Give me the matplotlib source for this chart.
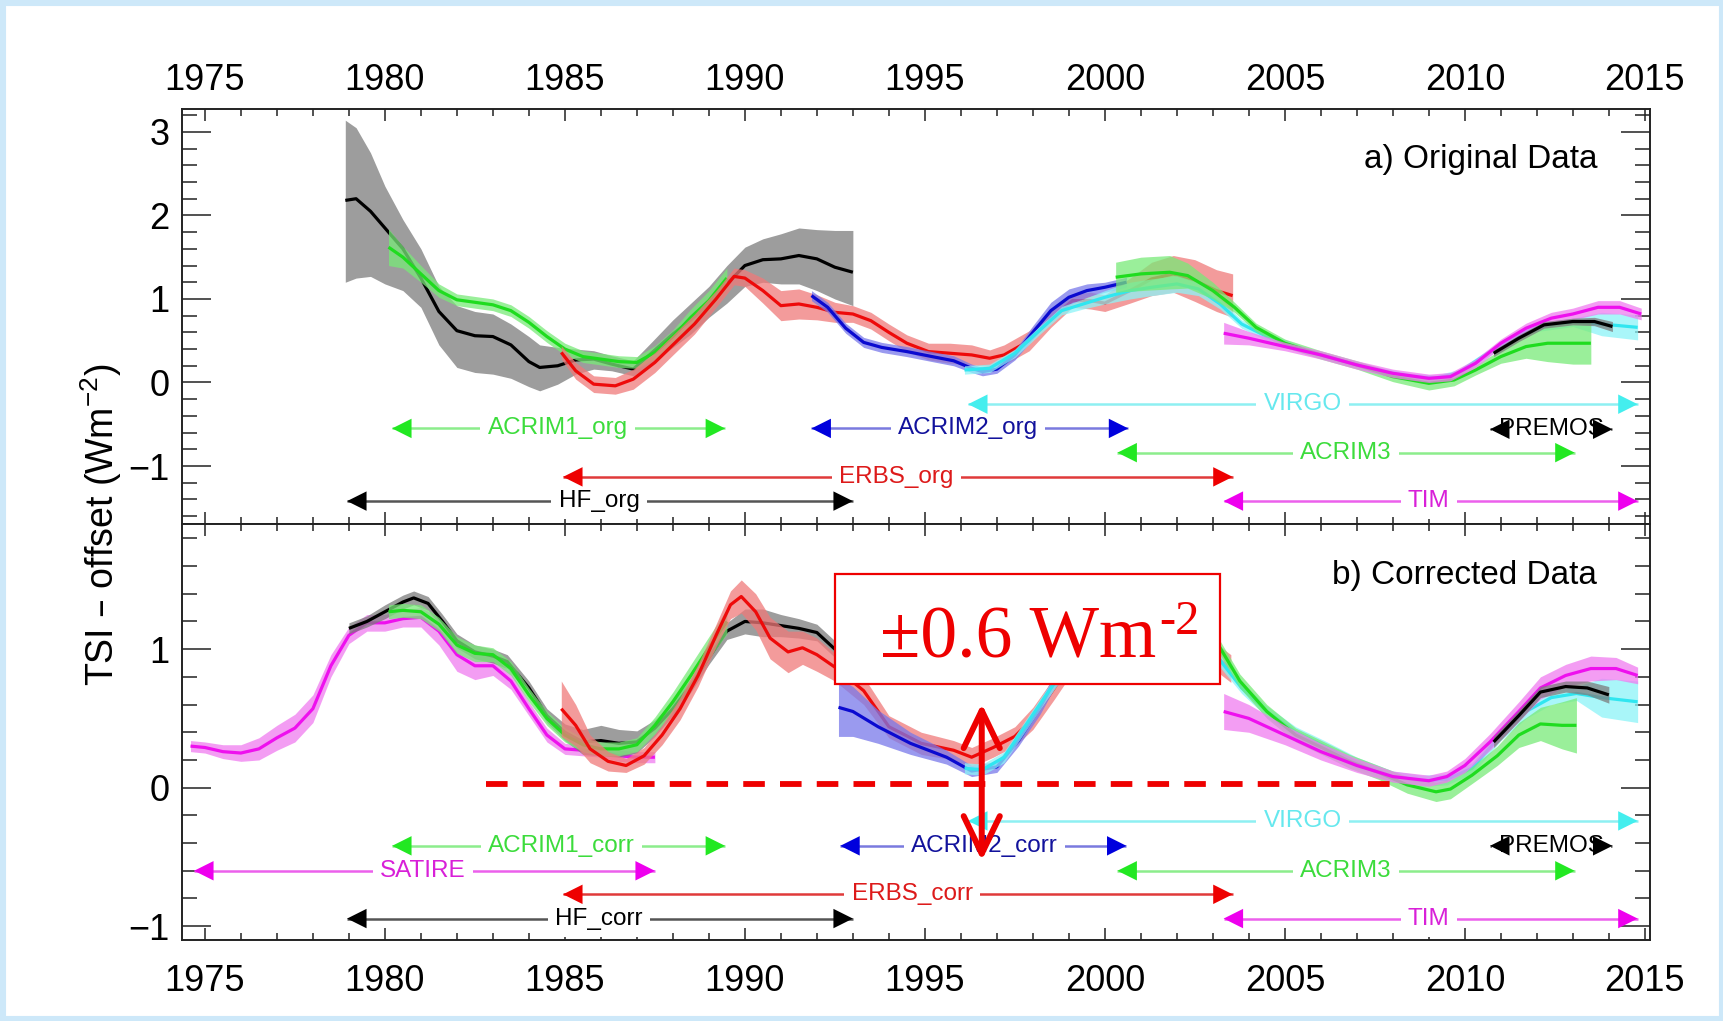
import numpy as np
import matplotlib
matplotlib.use('Agg')
import matplotlib.pyplot as plt
from matplotlib.patches import Rectangle
from matplotlib.ticker import MultipleLocator

plt.rcParams['font.family'] = ['Liberation Sans', 'DejaVu Sans']

# ---------------- a) original data ----------------
HF_ORG_T = [1978.9, 1979.2, 1979.6, 1980.0, 1980.5, 1981.0, 1981.5, 1982.0, 1982.5, 1983.0,
            1983.5, 1984.0, 1984.3, 1984.8, 1985.3, 1985.8, 1986.3, 1986.9, 1987.4, 1988.0,
            1988.5, 1989.0, 1989.5, 1990.0, 1990.5, 1991.0, 1991.5, 1992.0, 1992.5, 1993.0]
HF_ORG_Y = [2.18, 2.20, 2.05, 1.85, 1.60, 1.25, 0.85, 0.62, 0.56, 0.55,
            0.45, 0.25, 0.18, 0.20, 0.27, 0.28, 0.22, 0.16, 0.35, 0.58,
            0.75, 0.94, 1.18, 1.40, 1.47, 1.48, 1.52, 1.48, 1.38, 1.32]
HF_ORG_HI = [3.14, 3.05, 2.75, 2.35, 1.95, 1.60, 1.15, 0.92, 0.85, 0.82,
             0.70, 0.55, 0.45, 0.42, 0.40, 0.38, 0.32, 0.26, 0.48, 0.75,
             0.95, 1.15, 1.40, 1.62, 1.72, 1.78, 1.85, 1.83, 1.82, 1.82]
HF_ORG_LO = [1.20, 1.25, 1.27, 1.18, 1.10, 0.90, 0.45, 0.18, 0.12, 0.10,
             0.05, -0.05, -0.10, -0.02, 0.10, 0.16, 0.14, 0.08, 0.22, 0.42,
             0.58, 0.78, 0.95, 1.15, 1.20, 1.18, 1.18, 1.10, 1.00, 0.92]

ACRIM1_ORG_T = [1980.1, 1980.5, 1981.0, 1981.5, 1982.0, 1982.5, 1983.0, 1983.5, 1984.0, 1984.5,
                1985.0, 1985.5, 1986.0, 1986.5, 1987.0, 1987.5, 1988.0, 1988.5, 1989.0, 1989.5]
ACRIM1_ORG_Y = [1.62, 1.50, 1.30, 1.10, 0.99, 0.96, 0.93, 0.86, 0.72, 0.55,
                0.40, 0.31, 0.28, 0.25, 0.24, 0.36, 0.55, 0.78, 0.98, 1.25]
ACRIM1_ORG_E = [0.22, 0.13, 0.10, 0.08, 0.07, 0.07, 0.07, 0.07, 0.07, 0.07,
                0.07, 0.07, 0.07, 0.07, 0.07, 0.08, 0.08, 0.10, 0.12, 0.12]

ERBS_ORG_T = [1984.9, 1985.3, 1985.8, 1986.4, 1986.9, 1987.5, 1988.0, 1988.6, 1989.2, 1989.7,
              1990.0, 1990.5, 1991.0, 1991.5, 1992.0, 1992.5, 1993.0, 1993.5, 1994.0, 1994.5,
              1995.1, 1995.7, 1996.3, 1996.8, 1997.2, 1997.9, 1998.5, 1999.1, 1999.6, 2000.0,
              2000.7, 2001.3, 2001.9, 2002.5, 2003.1, 2003.55]
ERBS_ORG_Y = [0.36, 0.14, -0.02, -0.04, 0.04, 0.24, 0.45, 0.70, 1.00, 1.27,
              1.25, 1.10, 0.92, 0.94, 0.90, 0.84, 0.82, 0.74, 0.60, 0.47,
              0.37, 0.35, 0.33, 0.29, 0.33, 0.50, 0.76, 0.98, 0.98, 0.95,
              1.10, 1.24, 1.30, 1.22, 1.10, 1.04]
ERBS_ORG_E = [0.08, 0.10, 0.10, 0.10, 0.12, 0.12, 0.12, 0.12, 0.10, 0.10,
              0.10, 0.15, 0.18, 0.18, 0.15, 0.12, 0.10, 0.10, 0.10, 0.10,
              0.10, 0.12, 0.12, 0.10, 0.12, 0.12, 0.10, 0.08, 0.10, 0.10,
              0.15, 0.20, 0.22, 0.25, 0.25, 0.26]

ACRIM2_ORG_T = [1991.85, 1992.3, 1992.8, 1993.3, 1993.8, 1994.5, 1995.2, 1995.8, 1996.3,
                1996.6, 1997.0, 1997.5, 1998.0, 1998.5, 1999.0, 1999.5, 2000.0, 2000.6]
ACRIM2_ORG_Y = [1.04, 0.90, 0.65, 0.48, 0.42, 0.37, 0.31, 0.26, 0.17,
                0.13, 0.16, 0.33, 0.60, 0.86, 1.02, 1.10, 1.14, 1.20]
ACRIM2_ORG_E = [0.06, 0.06, 0.06, 0.06, 0.06, 0.06, 0.06, 0.06, 0.05,
                0.05, 0.05, 0.06, 0.08, 0.10, 0.10, 0.08, 0.06, 0.06]

VIRGO_ORG_T = [1996.1, 1996.8, 1997.5, 1998.2, 1998.8, 1999.4, 2000.0, 2000.7, 2001.3, 2002.0,
               2002.6, 2003.2, 2003.8, 2004.5, 2005.5, 2006.5, 2007.5, 2008.5, 2009.2, 2009.8,
               2010.5, 2011.3, 2012.0, 2013.0, 2013.8, 2014.8]
VIRGO_ORG_Y = [0.15, 0.17, 0.35, 0.63, 0.86, 0.94, 1.02, 1.10, 1.14, 1.18,
               1.12, 0.94, 0.70, 0.55, 0.39, 0.27, 0.15, 0.07, 0.05, 0.11,
               0.31, 0.53, 0.66, 0.72, 0.70, 0.66]
VIRGO_ORG_E = [0.05, 0.05, 0.05, 0.05, 0.05, 0.06, 0.08, 0.10, 0.10, 0.10,
               0.08, 0.06, 0.05, 0.05, 0.04, 0.04, 0.04, 0.04, 0.04, 0.04,
               0.04, 0.04, 0.05, 0.05, 0.14, 0.15]

ACRIM3_ORG_T = [2000.3, 2001.0, 2001.8, 2002.3, 2003.0, 2003.6, 2004.2, 2005.0, 2006.0, 2007.0,
                2008.0, 2009.0, 2009.7, 2010.3, 2011.0, 2011.7, 2012.3, 2013.0, 2013.5]
ACRIM3_ORG_Y = [1.26, 1.30, 1.32, 1.28, 1.10, 0.90, 0.66, 0.47, 0.33, 0.21,
                0.07, -0.01, 0.03, 0.15, 0.31, 0.43, 0.47, 0.47, 0.47]
ACRIM3_ORG_E = [0.18, 0.20, 0.20, 0.15, 0.10, 0.06, 0.05, 0.05, 0.05, 0.05,
                0.06, 0.08, 0.07, 0.06, 0.08, 0.14, 0.22, 0.25, 0.25]

TIM_ORG_T = [2003.3, 2004.0, 2005.0, 2006.0, 2007.0, 2008.0, 2009.0, 2009.6,
             2010.3, 2011.0, 2011.7, 2012.4, 2013.0, 2013.7, 2014.3, 2014.9]
TIM_ORG_Y = [0.59, 0.53, 0.43, 0.33, 0.21, 0.11, 0.05, 0.07,
             0.23, 0.47, 0.65, 0.77, 0.82, 0.90, 0.90, 0.82]
TIM_ORG_E = [0.13, 0.08, 0.05, 0.05, 0.05, 0.05, 0.05, 0.05,
             0.05, 0.05, 0.06, 0.07, 0.07, 0.08, 0.08, 0.07]

PREMOS_ORG_T = [2010.8, 2011.5, 2012.2, 2013.0, 2013.6, 2014.1]
PREMOS_ORG_Y = [0.35, 0.53, 0.69, 0.73, 0.73, 0.67]
PREMOS_ORG_E = [0.04, 0.04, 0.04, 0.04, 0.05, 0.06]

# ---------------- b) corrected data ----------------
SATIRE_T = [1974.6, 1975.0, 1975.5, 1976.0, 1976.5, 1977.0, 1977.5, 1978.0, 1978.5, 1979.0,
            1979.5, 1980.0, 1980.5, 1981.0, 1981.5, 1982.0, 1982.5, 1983.0, 1983.5, 1984.0,
            1984.5, 1985.0, 1985.5, 1986.0, 1986.5, 1987.0, 1987.5]
SATIRE_Y = [0.30, 0.29, 0.26, 0.25, 0.28, 0.36, 0.43, 0.57, 0.88, 1.10,
            1.19, 1.19, 1.22, 1.23, 1.13, 0.96, 0.88, 0.88, 0.77, 0.57,
            0.38, 0.28, 0.27, 0.26, 0.23, 0.22, 0.22]
SATIRE_E = [0.04, 0.04, 0.05, 0.06, 0.08, 0.09, 0.10, 0.10, 0.08, 0.06,
            0.06, 0.06, 0.06, 0.07, 0.10, 0.12, 0.10, 0.07, 0.06, 0.05,
            0.05, 0.04, 0.04, 0.04, 0.04, 0.04, 0.04]

HF_CORR_T = [1979.0, 1979.5, 1980.0, 1980.5, 1980.8, 1981.2, 1981.6, 1982.0, 1982.5, 1983.0,
             1983.4, 1984.0, 1984.5, 1985.0, 1985.5, 1986.0, 1986.5, 1987.0, 1987.5, 1988.0,
             1988.5, 1989.0, 1989.5, 1990.0, 1990.5, 1991.0, 1991.5, 1992.0, 1992.5, 1993.0]
HF_CORR_Y = [1.15, 1.20, 1.27, 1.34, 1.37, 1.33, 1.20, 1.06, 0.98, 0.95,
             0.91, 0.72, 0.52, 0.40, 0.33, 0.34, 0.32, 0.33, 0.43, 0.57,
             0.74, 0.94, 1.13, 1.20, 1.19, 1.17, 1.15, 1.12, 1.00, 0.88]
HF_CORR_E = [0.04, 0.04, 0.05, 0.05, 0.05, 0.05, 0.05, 0.05, 0.05, 0.05,
             0.05, 0.05, 0.05, 0.06, 0.09, 0.11, 0.10, 0.08, 0.06, 0.05,
             0.05, 0.05, 0.06, 0.09, 0.10, 0.08, 0.07, 0.06, 0.06, 0.06]

ACRIM1_CORR_T = [1980.1, 1980.5, 1981.0, 1981.5, 1982.0, 1982.5, 1983.0, 1983.5, 1984.0, 1984.5,
                 1985.0, 1985.5, 1986.0, 1986.5, 1987.0, 1987.5, 1988.0, 1988.5, 1989.0, 1989.5]
ACRIM1_CORR_Y = [1.27, 1.28, 1.27, 1.18, 1.03, 0.97, 0.96, 0.86, 0.67, 0.50,
                 0.38, 0.31, 0.28, 0.28, 0.31, 0.45, 0.62, 0.81, 1.01, 1.20]
ACRIM1_CORR_E = [0.05, 0.05, 0.05, 0.05, 0.06, 0.06, 0.05, 0.05, 0.05, 0.05,
                 0.05, 0.05, 0.05, 0.05, 0.05, 0.06, 0.07, 0.08, 0.08, 0.09]

ERBS_CORR_T = [1984.9, 1985.3, 1985.7, 1986.2, 1986.7, 1987.2, 1987.7, 1988.2, 1988.7, 1989.2,
               1989.6, 1989.9, 1990.3, 1990.7, 1991.2, 1991.6, 1992.0, 1992.5, 1993.3, 1994.0,
               1994.9, 1995.8, 1996.3, 1996.9, 1997.5, 1998.0, 1998.6, 1999.2, 1999.8, 2000.4,
               2001.0, 2001.7, 2002.5, 2003.0, 2003.5]
ERBS_CORR_Y = [0.57, 0.45, 0.28, 0.19, 0.16, 0.23, 0.38, 0.57, 0.81, 1.10,
               1.32, 1.38, 1.27, 1.08, 0.98, 1.01, 0.96, 0.87, 0.70, 0.44,
               0.32, 0.27, 0.22, 0.29, 0.37, 0.50, 0.72, 0.95, 0.90, 0.88,
               1.02, 1.15, 1.08, 0.96, 0.86]
ERBS_CORR_E = [0.20, 0.15, 0.10, 0.07, 0.05, 0.06, 0.07, 0.08, 0.08, 0.08,
               0.10, 0.12, 0.13, 0.15, 0.15, 0.12, 0.12, 0.10, 0.10, 0.08,
               0.08, 0.07, 0.07, 0.07, 0.07, 0.08, 0.08, 0.08, 0.10, 0.12,
               0.12, 0.12, 0.12, 0.10, 0.10]

ACRIM2_CORR_T = [1992.6, 1993.0, 1993.7, 1994.6, 1995.6, 1996.3, 1997.0,
                 1997.6, 1998.2, 1998.6, 1999.1, 1999.6, 2000.1, 2000.6]
ACRIM2_CORR_Y = [0.58, 0.55, 0.44, 0.32, 0.22, 0.12, 0.15,
                 0.34, 0.58, 0.77, 0.96, 1.08, 1.12, 1.15]
ACRIM2_CORR_E = [0.21, 0.18, 0.12, 0.08, 0.05, 0.04, 0.04,
                 0.04, 0.05, 0.05, 0.05, 0.05, 0.05, 0.05]

VIRGO_CORR_T = [1996.1, 1996.6, 1997.2, 1997.8, 1998.4, 1999.0, 1999.7, 2000.5, 2001.3, 2002.0,
                2002.6, 2003.2, 2003.8, 2004.5, 2005.3, 2006.1, 2007.0, 2008.0, 2008.8, 2009.5,
                2010.2, 2011.0, 2011.7, 2012.4, 2013.1, 2013.8, 2014.8]
VIRGO_CORR_Y = [0.14, 0.13, 0.22, 0.45, 0.68, 0.90, 1.05, 1.15, 1.22, 1.25,
                1.18, 0.92, 0.72, 0.55, 0.40, 0.30, 0.18, 0.08, 0.05, 0.06,
                0.14, 0.38, 0.55, 0.65, 0.68, 0.65, 0.62]
VIRGO_CORR_E = [0.04, 0.04, 0.04, 0.04, 0.04, 0.05, 0.05, 0.06, 0.06, 0.06,
                0.06, 0.05, 0.04, 0.04, 0.04, 0.04, 0.04, 0.04, 0.04, 0.04,
                0.04, 0.04, 0.05, 0.05, 0.05, 0.14, 0.15]

ACRIM3_CORR_T = [2000.3, 2001.0, 2001.7, 2002.4, 2003.0, 2003.2, 2003.75, 2004.5, 2005.3, 2006.1,
                 2006.8, 2007.6, 2008.4, 2009.2, 2009.6, 2010.2, 2010.9, 2011.5, 2012.1, 2012.7,
                 2013.1]
ACRIM3_CORR_Y = [1.30, 1.38, 1.45, 1.38, 1.12, 1.01, 0.77, 0.55, 0.38, 0.28,
                 0.19, 0.11, 0.02, -0.03, -0.01, 0.09, 0.23, 0.38, 0.46, 0.45,
                 0.45]
ACRIM3_CORR_E = [0.08, 0.10, 0.10, 0.08, 0.05, 0.05, 0.05, 0.05, 0.05, 0.05,
                 0.05, 0.05, 0.06, 0.07, 0.07, 0.06, 0.07, 0.09, 0.12, 0.17,
                 0.20]

TIM_CORR_T = [2003.3, 2004.0, 2005.0, 2006.0, 2007.0, 2008.0, 2009.0, 2009.5,
              2010.0, 2010.7, 2011.5, 2012.1, 2012.8, 2013.5, 2014.2, 2014.8]
TIM_CORR_Y = [0.55, 0.50, 0.38, 0.26, 0.16, 0.08, 0.05, 0.08,
              0.16, 0.33, 0.55, 0.72, 0.81, 0.86, 0.86, 0.81]
TIM_CORR_E = [0.13, 0.10, 0.07, 0.06, 0.05, 0.04, 0.04, 0.04,
              0.05, 0.06, 0.07, 0.08, 0.08, 0.09, 0.08, 0.06]

PREMOS_CORR_T = [2010.8, 2011.5, 2012.1, 2012.8, 2013.4, 2014.0]
PREMOS_CORR_Y = [0.33, 0.52, 0.69, 0.73, 0.72, 0.67]
PREMOS_CORR_E = [0.04, 0.04, 0.04, 0.04, 0.05, 0.06]

# instrument time spans (arrows)
TOP_ARROW_LABELS = ['ACRIM1_org', 'ACRIM2_org', 'VIRGO', 'PREMOS', 'ACRIM3', 'ERBS_org', 'HF_org', 'TIM']
TOP_ARROW_COLORS = ['green', 'blue', 'cyan', 'black', 'green', 'red', 'black', 'magenta']
TOP_ARROW_START = [1980.2, 1991.85, 1996.2, 2010.7, 2000.35, 1984.95, 1978.95, 2003.3]
TOP_ARROW_END = [1989.45, 2000.65, 2014.8, 2014.1, 2013.05, 2003.55, 1993.0, 2014.8]
TOP_ARROW_Y = [-0.55, -0.55, -0.26, -0.56, -0.84, -1.13, -1.42, -1.42]
TOP_ARROW_LABEL_X = [1984.8, 1996.2, 2005.5, 2012.4, 2006.7, 1994.2, 1985.95, 2009.0]

BOT_ARROW_LABELS = ['VIRGO', 'ACRIM1_corr', 'ACRIM2_corr', 'PREMOS', 'SATIRE', 'ACRIM3',
                    'ERBS_corr', 'HF_corr', 'TIM']
BOT_ARROW_COLORS = ['cyan', 'green', 'blue', 'black', 'magenta', 'green', 'red', 'black', 'magenta']
BOT_ARROW_START = [1996.2, 1980.2, 1992.65, 2010.7, 1974.7, 2000.35, 1984.95, 1978.95, 2003.3]
BOT_ARROW_END = [2014.8, 1989.45, 2000.6, 2014.1, 1987.5, 2013.05, 2003.55, 1993.0, 2014.8]
BOT_ARROW_Y = [-0.24, -0.42, -0.42, -0.42, -0.60, -0.60, -0.77, -0.945, -0.945]
BOT_ARROW_LABEL_X = [2005.5, 1984.9, 1996.65, 2012.4, 1981.05, 2006.7, 1994.65, 1985.95, 2009.0]

# line colour, band colour
SERIES_COLORS = {
    'black': ('#000000', '#7c7c7c'),
    'green': ('#1fdc1f', '#78ea78'),
    'red': ('#ee0a0a', '#f07a7a'),
    'blue': ('#0a0ad0', '#7878ea'),
    'cyan': ('#30e6f0', '#8cf4f8'),
    'magenta': ('#ee10ee', '#f07cf0'),
}
# arrow line, arrow head, label text
ARROW_COLORS = {
    'black': ('#555555', '#000000', '#000000'),
    'green': ('#8ced8c', '#22e822', '#3cdc3c'),
    'red': ('#e03a3a', '#ee0000', '#dd1a1a'),
    'blue': ('#7a7adf', '#0000dd', '#12129c'),
    'cyan': ('#8ef0f2', '#44eeee', '#66e8ee'),
    'magenta': ('#ec60ec', '#ee00ee', '#d820d8'),
}


def draw_series(ax, t, y, col, z, err=None, lo=None, hi=None):
    t = np.asarray(t)
    y = np.asarray(y)
    if lo is None:
        lo = y - np.asarray(err)
        hi = y + np.asarray(err)
    line_c, band_c = SERIES_COLORS[col]
    ax.fill_between(t, lo, hi, color=band_c, alpha=0.75, lw=0, zorder=z)
    ax.plot(t, y, color=line_c, lw=2.3, zorder=z + 0.5, solid_capstyle='butt')


def draw_span(ax, x0, x1, y, label, lx, col):
    line_c, head_c, text_c = ARROW_COLORS[col]
    ax.plot([x0, x1], [y, y], color=line_c, lw=1.8, zorder=20, solid_capstyle='butt')
    for xa, xb in ((x0, x0 + 0.8), (x1, x1 - 0.8)):
        ax.annotate('', xy=(xa, y), xytext=(xb, y), zorder=22,
                    arrowprops=dict(arrowstyle='-|>,head_length=0.7,head_width=0.35',
                                    color=head_c, lw=0, shrinkA=0, shrinkB=0,
                                    mutation_scale=20))
    ax.text(lx, y, label, color=text_c, fontsize=17.5, ha='center', va='center', zorder=21,
            bbox=dict(boxstyle='square,pad=0.3', fc='white', ec='none'))


def style_axes(ax, top_labels):
    ax.set_xlim(1974.37, 2015.14)
    ax.xaxis.set_major_locator(MultipleLocator(5))
    ax.xaxis.set_minor_locator(MultipleLocator(1))
    ax.yaxis.set_major_locator(MultipleLocator(1))
    ax.yaxis.set_minor_locator(MultipleLocator(0.2))
    ax.tick_params(axis='x', which='both', direction='in', top=True, bottom=True,
                   labeltop=top_labels, labelbottom=not top_labels,
                   labelsize=26, pad=8 if top_labels else 17, width=1.1, color='#222222')
    ax.tick_params(axis='x', which='major', length=8.6)
    ax.tick_params(axis='x', which='minor', length=5)
    ax.tick_params(axis='y', which='both', direction='in', left=True, right=True,
                   labelsize=26, pad=9, width=1.1, color='#222222')
    ax.tick_params(axis='y', which='major', length=21)
    ax.tick_params(axis='y', which='minor', length=10.5)
    for sp in ax.spines.values():
        sp.set_linewidth(1.4)
        sp.set_color('#222222')


fig = plt.figure(figsize=(17.24, 10.21), dpi=100)
ax1 = fig.add_axes([0.1057, 0.4863, 0.8513, 0.4066])
ax2 = fig.add_axes([0.1057, 0.0793, 0.8513, 0.4070])

# --- top panel
draw_series(ax1, HF_ORG_T, HF_ORG_Y, 'black', 2, lo=HF_ORG_LO, hi=HF_ORG_HI)
draw_series(ax1, ACRIM1_ORG_T, ACRIM1_ORG_Y, 'green', 3, err=ACRIM1_ORG_E)
draw_series(ax1, ERBS_ORG_T, ERBS_ORG_Y, 'red', 4, err=ERBS_ORG_E)
draw_series(ax1, ACRIM2_ORG_T, ACRIM2_ORG_Y, 'blue', 5, err=ACRIM2_ORG_E)
draw_series(ax1, VIRGO_ORG_T, VIRGO_ORG_Y, 'cyan', 6, err=VIRGO_ORG_E)
draw_series(ax1, ACRIM3_ORG_T, ACRIM3_ORG_Y, 'green', 7, err=ACRIM3_ORG_E)
draw_series(ax1, TIM_ORG_T, TIM_ORG_Y, 'magenta', 8, err=TIM_ORG_E)
draw_series(ax1, PREMOS_ORG_T, PREMOS_ORG_Y, 'black', 9, err=PREMOS_ORG_E)
for i in range(len(TOP_ARROW_LABELS)):
    draw_span(ax1, TOP_ARROW_START[i], TOP_ARROW_END[i], TOP_ARROW_Y[i],
              TOP_ARROW_LABELS[i], TOP_ARROW_LABEL_X[i], TOP_ARROW_COLORS[i])
ax1.set_ylim(-1.70, 3.27)
style_axes(ax1, True)
ax1.text(0.964, 0.878, 'a) Original Data', transform=ax1.transAxes,
         ha='right', va='center', fontsize=24)

# --- bottom panel
draw_series(ax2, SATIRE_T, SATIRE_Y, 'magenta', 2, err=SATIRE_E)
draw_series(ax2, HF_CORR_T, HF_CORR_Y, 'black', 3, err=HF_CORR_E)
draw_series(ax2, ACRIM1_CORR_T, ACRIM1_CORR_Y, 'green', 4, err=ACRIM1_CORR_E)
draw_series(ax2, ERBS_CORR_T, ERBS_CORR_Y, 'red', 5, err=ERBS_CORR_E)
draw_series(ax2, ACRIM2_CORR_T, ACRIM2_CORR_Y, 'blue', 6, err=ACRIM2_CORR_E)
draw_series(ax2, VIRGO_CORR_T, VIRGO_CORR_Y, 'cyan', 7, err=VIRGO_CORR_E)
draw_series(ax2, ACRIM3_CORR_T, ACRIM3_CORR_Y, 'green', 8, err=ACRIM3_CORR_E)
draw_series(ax2, TIM_CORR_T, TIM_CORR_Y, 'magenta', 9, err=TIM_CORR_E)
draw_series(ax2, PREMOS_CORR_T, PREMOS_CORR_Y, 'black', 10, err=PREMOS_CORR_E)
for i in range(len(BOT_ARROW_LABELS)):
    draw_span(ax2, BOT_ARROW_START[i], BOT_ARROW_END[i], BOT_ARROW_Y[i],
              BOT_ARROW_LABELS[i], BOT_ARROW_LABEL_X[i], BOT_ARROW_COLORS[i])
ax2.set_ylim(-1.10, 1.90)
style_axes(ax2, False)
ax2.text(0.964, 0.878, 'b) Corrected Data', transform=ax2.transAxes,
         ha='right', va='center', fontsize=24)

# spread annotation
ax2.plot([1982.8, 2008.0], [0.03, 0.03], color='#ee0000', lw=4.2,
         dashes=(3.7, 2.6), zorder=30)
ax2.add_patch(Rectangle((1992.5, 0.745), 2003.19 - 1992.5, 1.539 - 0.745,
                        fc='white', ec='#ee0000', lw=1.6, zorder=31))
spread = ax2.text(1993.75, 0.94, '±0.6 Wm', color='#ee0000', fontsize=53,
                  family=['Liberation Serif', 'DejaVu Serif'],
                  ha='left', va='baseline', zorder=32)
ax2.annotate('-2', xy=(1.0, 1.0), xycoords=spread, xytext=(2, 4), textcoords='offset points',
             color='#ee0000', fontsize=35, family=['Liberation Serif', 'DejaVu Serif'],
             ha='left', va='top', zorder=32)
ax2.annotate('', xy=(1996.58, 0.606), xytext=(1996.58, -0.526), zorder=33,
             arrowprops=dict(arrowstyle='<->,head_length=1.35,head_width=0.65',
                             color='#ee0000', lw=4.3, shrinkA=0, shrinkB=0,
                             mutation_scale=20))

fig.text(101 / 1724, 1 - 524.5 / 1021, 'TSI – offset (Wm$^{\\mathregular{-2}}$)',
         rotation=90, ha='center', va='center', fontsize=27)

# light blue slide frame
fig.patches.append(Rectangle((0, 0), 1, 1, transform=fig.transFigure, fill=False,
                             ec='#cde8f9', lw=8, zorder=100))

fig.savefig('out.png', dpi=100)
